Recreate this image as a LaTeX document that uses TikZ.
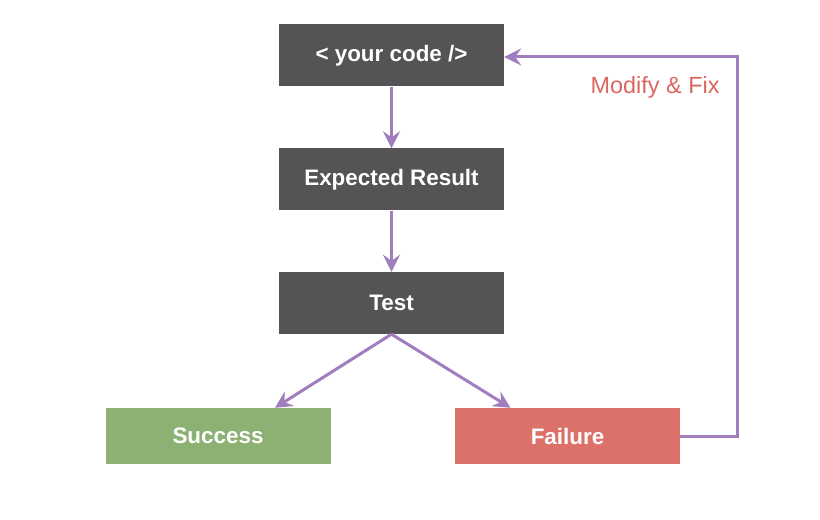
\documentclass[tikz,border=0pt]{standalone}
\usepackage{fontspec}
\setmainfont{Liberation Sans}
\usetikzlibrary{arrows.meta}
\definecolor{boxgray}{HTML}{555356}
\definecolor{boxgreen}{HTML}{8CB173}
\definecolor{boxred}{HTML}{DC716A}
\definecolor{linepurple}{HTML}{A07EBE}
\definecolor{labelred}{HTML}{DB6660}
\begin{document}
\begin{tikzpicture}[x=1bp,y=-1bp,
  stepbox/.style={draw=none,minimum width=225bp,minimum height=62bp,inner sep=0pt,
    text=white,font=\fontsize{22.5}{26}\selectfont\bfseries},
  flow/.style={draw=linepurple,line width=3bp,-{Stealth[length=17bp,width=17bp,inset=6bp]}}
]
\useasboundingbox (0,0) rectangle (820,520);
\node[stepbox,fill=boxgray] (code) at (391.5,55.5) {< your code />};
\node[stepbox,fill=boxgray] (exp) at (391.5,179.5) {Expected Result};
\node[stepbox,fill=boxgray] (test) at (391.5,303) {Test};
\node[stepbox,fill=boxgreen,minimum height=56bp] (succ) at (218,436) {Success};
\node[stepbox,fill=boxred,minimum height=56bp] (fail) at (567.5,436) {Failure};
\coordinate (corner1) at (737,436);
\coordinate (corner2) at (737,57);
\draw[flow] (code.south) -- (exp.north);
\draw[flow] (exp.south) -- (test.north);
\draw[flow] (test.south) -- ([xshift=57bp]succ.north);
\draw[flow] (test.south) -- ([xshift=-57bp]fail.north);
\draw[flow] (fail.east) -- (corner1) -- (corner2) -- (code.east |- corner2);
\node[text=labelred,font=\fontsize{23.5}{28}\selectfont,anchor=east] (lbl) at (723,87) {Modify \& Fix};
\end{tikzpicture}
\end{document}
